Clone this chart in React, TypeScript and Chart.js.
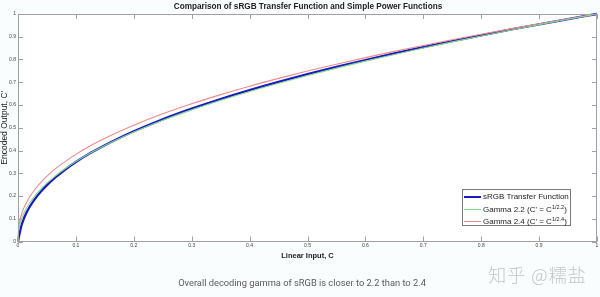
import React, { useEffect, useRef } from 'react';
import { Chart, registerables } from 'chart.js';

Chart.register(...registerables);

// ---- data ----
const xs = [0, 0.001, 0.002, 0.003, 0.005, 0.0075, 0.01, 0.015, 0.02, 0.03, 0.04, 0.05, 0.065, 0.08, 0.1, 0.125, 0.15, 0.175, 0.2, 0.25, 0.3, 0.35, 0.4, 0.45, 0.5, 0.55, 0.6, 0.65, 0.7, 0.75, 0.8, 0.85, 0.9, 0.95, 1];
const srgb = [0, 0.0129, 0.0258, 0.0388, 0.0611, 0.0824, 0.0999, 0.1284, 0.1517, 0.1898, 0.2209, 0.2478, 0.2828, 0.3133, 0.3492, 0.3886, 0.4235, 0.4553, 0.4845, 0.5371, 0.5838, 0.6262, 0.6652, 0.7014, 0.7354, 0.7674, 0.7978, 0.8267, 0.8543, 0.8808, 0.9063, 0.9309, 0.9546, 0.9776, 1];
const gamma22 = [0, 0.0433, 0.0593, 0.0713, 0.09, 0.1082, 0.1233, 0.1482, 0.169, 0.2031, 0.2315, 0.2562, 0.2887, 0.3173, 0.3511, 0.3886, 0.4222, 0.4528, 0.4812, 0.5325, 0.5785, 0.6205, 0.6594, 0.6956, 0.7297, 0.7621, 0.7928, 0.8222, 0.8503, 0.8774, 0.9036, 0.9288, 0.9532, 0.977, 1];
const gamma24 = [0, 0.0562, 0.0751, 0.0889, 0.11, 0.1302, 0.1468, 0.1738, 0.1959, 0.232, 0.2615, 0.287, 0.3202, 0.3491, 0.3831, 0.4205, 0.4536, 0.4837, 0.5114, 0.5612, 0.6055, 0.6457, 0.6827, 0.717, 0.7492, 0.7795, 0.8083, 0.8357, 0.8619, 0.887, 0.9112, 0.9345, 0.957, 0.9788, 1];

const tickValues = [0, 0.1, 0.2, 0.3, 0.4, 0.5, 0.6, 0.7, 0.8, 0.9, 1];
const tickLabels = ['0', '0.1', '0.2', '0.3', '0.4', '0.5', '0.6', '0.7', '0.8', '0.9', '1'];

const seriesNames = ['sRGB Transfer Function', 'Gamma 2.2', 'Gamma 2.4'];
const seriesFormula = ['', '1/2.2', '1/2.4'];
const seriesColors = ['#1a1ac4', '#86d886', '#ee8a8a'];
const seriesWidths = [2.3, 1.1, 1.1];

const titleText = 'Comparison of sRGB Transfer Function and Simple Power Functions';
const xTitle = 'Linear Input, C';
const yTitle = "Encoded Output, C'";
const caption = 'Overall decoding gamma of sRGB is closer to 2.2 than to 2.4';
const watermark = '知乎 @糯盐';

const FONT = '"Liberation Sans", Arial, Helvetica, sans-serif';

const boxPlugin = {
  id: 'matlabBox',
  beforeDatasetsDraw(chart: any) {
    const { ctx, chartArea: a } = chart;
    ctx.save();
    ctx.fillStyle = '#ffffff';
    ctx.fillRect(a.left, a.top, a.right - a.left, a.bottom - a.top);
    ctx.restore();
  },
  afterDatasetsDraw(chart: any) {
    const { ctx, chartArea: a, scales } = chart;
    ctx.save();
    ctx.strokeStyle = '#a0a0a0';
    ctx.lineWidth = 1;
    ctx.strokeRect(Math.round(a.left) + 0.5, Math.round(a.top) + 0.5, Math.round(a.right - a.left) - 1, Math.round(a.bottom - a.top) - 1);
    const L = 5;
    ctx.beginPath();
    scales.x.ticks.forEach((t: any) => {
      const px = Math.round(scales.x.getPixelForValue(t.value)) + 0.5;
      ctx.moveTo(px, a.bottom);
      ctx.lineTo(px, a.bottom - L);
      ctx.moveTo(px, a.top);
      ctx.lineTo(px, a.top + L);
    });
    scales.y.ticks.forEach((t: any) => {
      const py = Math.round(scales.y.getPixelForValue(t.value)) + 0.5;
      ctx.moveTo(a.left, py);
      ctx.lineTo(a.left + L, py);
      ctx.moveTo(a.right, py);
      ctx.lineTo(a.right - L, py);
    });
    ctx.stroke();
    ctx.restore();
  },
};

export default function App() {
  const ref = useRef<HTMLCanvasElement | null>(null);

  useEffect(() => {
    if (!ref.current) return;
    const mk = (ys: number[]) => xs.map((x, i) => ({ x, y: ys[i] }));
    const all = [srgb, gamma22, gamma24];
    const chart = new Chart(ref.current, {
      type: 'line',
      data: {
        datasets: all.map((ys, i) => ({
          label: seriesNames[i],
          data: mk(ys),
          borderColor: seriesColors[i],
          backgroundColor: seriesColors[i],
          borderWidth: seriesWidths[i],
          pointRadius: 0,
          cubicInterpolationMode: 'monotone' as const,
          clip: 3,
          order: i === 0 ? 2 : 1,
        })),
      },
      options: {
        animation: false,
        responsive: false,
        maintainAspectRatio: false,
        layout: { padding: { left: 0, right: 3, top: 14, bottom: 36.5 } },
        plugins: {
          legend: { display: false },
          tooltip: { enabled: false },
          title: { display: false },
        },
        scales: {
          x: {
            type: 'linear',
            min: 0,
            max: 1,
            afterBuildTicks: (s: any) => { s.ticks = tickValues.map((v) => ({ value: v })); },
            ticks: {
              callback: (_v: any, i: number) => tickLabels[i],
              font: { family: FONT, size: 5 },
              color: '#444',
              padding: 1.5,
              maxRotation: 0,
              autoSkip: false,
            },
            grid: { display: false, drawTicks: false, tickLength: 0 },
            border: { display: false },
            title: {
              display: true,
              text: xTitle,
              color: '#222',
              font: { family: FONT, size: 7.5, weight: 'bold' },
              padding: { top: 1, bottom: 0 },
            },
          },
          y: {
            type: 'linear',
            min: 0,
            max: 1,
            afterBuildTicks: (s: any) => { s.ticks = tickValues.map((v) => ({ value: v })); },
            afterFit: (s: any) => { s.width = 18; },
            ticks: {
              callback: (_v: any, i: number) => tickLabels[i],
              font: { family: FONT, size: 5 },
              color: '#444',
              padding: 2,
              autoSkip: false,
            },
            grid: { display: false, drawTicks: false, tickLength: 0 },
            border: { display: false },
            title: {
              display: true,
              text: yTitle,
              color: '#222',
              font: { family: FONT, size: 8.5 },
              padding: { top: 0, bottom: 0 },
            },
          },
        },
      },
      plugins: [boxPlugin],
    } as any);
    return () => chart.destroy();
  }, []);

  return (
    <div style={{ position: 'absolute', left: 0, top: 0, width: 600, height: 297, background: '#fafdfd', overflow: 'hidden' }}>
      <canvas ref={ref} width={600} height={297} style={{ position: 'absolute', left: 0, top: 0, width: 600, height: 297 }} />
      <div style={{ position: 'absolute', left: 8, top: 1, width: 600, textAlign: 'center', fontFamily: FONT, fontSize: 8.2, fontWeight: 'bold', color: '#222', lineHeight: '12px', whiteSpace: 'nowrap' }}>
        {titleText}
      </div>
      <div
        style={{
          position: 'absolute', left: 462, top: 189, width: 109, height: 37,
          border: '1px solid #7a7a7a', background: '#fff', boxSizing: 'border-box',
          fontFamily: FONT, fontSize: 8, color: '#222',
        }}
      >
        {seriesNames.map((name, i) => (
          <div key={name} style={{ position: 'absolute', left: 1, top: 1 + i * 12.5, height: 11, display: 'flex', alignItems: 'center', whiteSpace: 'nowrap' }}>
            <span style={{ display: 'inline-block', width: 17, height: 0, borderTop: `${i === 0 ? 2 : 1}px solid ${seriesColors[i]}`, marginRight: 2 }} />
            <span>
              {name}
              {seriesFormula[i] ? (
                <>
                  {" (C' = C"}
                  <sup style={{ fontSize: 5.5, verticalAlign: 'top', position: 'relative', top: -1 }}>{seriesFormula[i]}</sup>
                  {')'}
                </>
              ) : null}
            </span>
          </div>
        ))}
      </div>
      <div style={{ position: 'absolute', left: 480, top: 263, width: 115, textAlign: 'center', fontFamily: '"Noto Sans CJK SC", sans-serif', fontSize: 18, letterSpacing: 1, fontWeight: 300, color: '#c2c6c6', lineHeight: '22px', whiteSpace: 'nowrap' }}>
        {watermark}
      </div>
      <div style={{ position: 'absolute', left: 0, top: 277, width: 604, textAlign: 'center', fontFamily: 'Roboto, sans-serif', fontSize: 9.3, color: '#5a5a5a', lineHeight: '12px' }}>
        {caption}
      </div>
    </div>
  );
}
